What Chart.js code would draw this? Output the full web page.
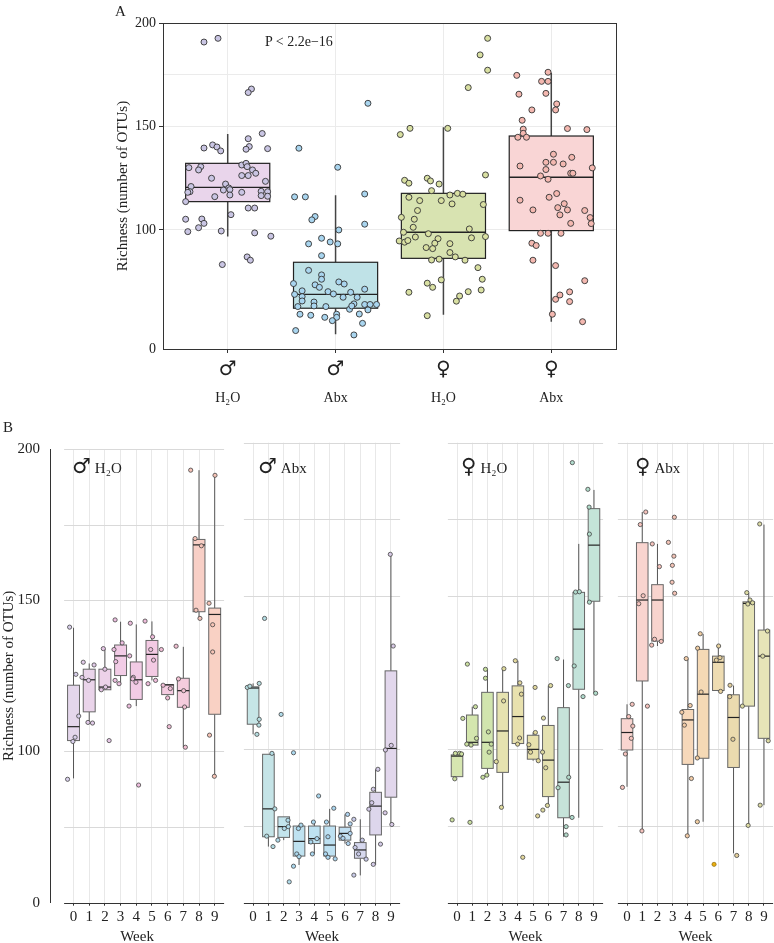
<!DOCTYPE html>
<html>
<head>
<meta charset="utf-8">
<script src="https://cdn.jsdelivr.net/npm/chart.js@4.4.0/dist/chart.umd.min.js"></script>
<style>
html, body { margin: 0; padding: 0; background: #fff; overflow: hidden; }
#wrap { position: relative; width: 774px; height: 943px; overflow: hidden;
        font-family: "Liberation Serif", "DejaVu Serif", serif; color: #222; }
canvas { position: absolute; }
.lbl { position: absolute; white-space: nowrap; line-height: 1; }
.sym { font-family: "DejaVu Sans", sans-serif; }
</style>
</head>
<body>
<div id="wrap">
  <canvas id="cA" style="left:0px;top:0px" width="774" height="420"></canvas>
  <canvas id="cB1" style="left:0px;top:430px" width="227" height="520"></canvas>
  <canvas id="cB2" style="left:241px;top:430px" width="162" height="520"></canvas>
  <canvas id="cB3" style="left:445px;top:430px" width="161" height="520"></canvas>
  <canvas id="cB4" style="left:615px;top:430px" width="161" height="520"></canvas>

  <div class="lbl" style="left:115px;top:4px;font-size:15px">A</div>
  <div class="lbl" style="left:3px;top:420px;font-size:15px">B</div>
  <div class="lbl" style="left:265px;top:35px;font-size:14px">P &lt; 2.2e−16</div>

  <div class="lbl" style="left:72px;top:456px"><span class="sym" style="font-size:21px">♂</span> <span style="font-size:15px">H₂O</span></div>
  <div class="lbl" style="left:258px;top:456px"><span class="sym" style="font-size:21px">♂</span> <span style="font-size:15px">Abx</span></div>
  <div class="lbl" style="left:461px;top:456px"><span class="sym" style="font-size:21px">♀</span> <span style="font-size:15px">H₂O</span></div>
  <div class="lbl" style="left:635px;top:456px"><span class="sym" style="font-size:21px">♀</span> <span style="font-size:15px">Abx</span></div>
</div>

<script>
// ---------- panel A : all weeks pooled ----------
const aSex = ['♂', '♂', '♀', '♀'];
const aTreat = ['H₂O', 'Abx', 'H₂O', 'Abx'];
const aYTicks = [42.5, 100, 150, 200];
const aYTickLabels = ['0', '100', '150', '200'];
const aYGrid = [100, 150, 175];

const aLo  = [96.8, 49.6, 59.0, 55.7];
const aQ1  = [113.7, 62.2, 86.3, 99.7];
const aMed = [120.6, 68.9, 98.9, 125.5];
const aQ3  = [132.2, 84.4, 117.7, 145.4];
const aHi  = [146.4, 116.8, 149.6, 176.0];

// [jitter, richness]
const aPtsMH2O = [[-0.22,190.8],[-0.09,192.6],[0.22,168.1],[0.19,166.4],[0.32,146.6],[0.19,144.1],[-0.22,139.6],
  [-0.14,141.1],[-0.10,140.1],[-0.065,138.2],[0.20,140.3],[0.17,139.0],[0.37,139.3],[-0.36,130.1],[-0.25,130.6],
  [-0.27,129.0],[-0.15,125.0],[0.13,131.4],[0.17,132.2],[0.18,130.6],[0.23,129.0],[0.26,127.4],[0.19,126.3],
  [0.13,126.3],[0.35,123.5],[-0.34,121.0],[-0.35,118.5],[-0.37,118.2],[-0.02,122.2],[0.01,120.3],[0.02,119.5],
  [-0.04,119.3],[0.02,116.9],[0.13,118.2],[0.31,118.7],[0.31,116.6],[0.37,118.5],[0.37,116.3],[-0.12,116.1],
  [-0.39,113.7],[0.03,107.4],[0.19,110.6],[0.25,110.6],[-0.39,105.2],[-0.24,105.3],[-0.22,103.2],[-0.27,101.1],
  [-0.37,99.2],[-0.06,99.5],[0.25,98.6],[0.40,97.0],[0.18,87.0],[0.21,85.4],[-0.05,83.3]];
const aPtsMAbx = [[0.30,161.2],[-0.34,139.5],[0.02,130.3],[-0.38,116.0],[-0.28,116.0],[0.27,117.4],[-0.19,106.5],
  [-0.22,104.9],[0.27,102.8],[0.03,100.0],[-0.13,96.0],[-0.05,94.2],[0.02,93.3],[-0.25,93.3],[-0.13,87.6],
  [-0.25,80.5],[-0.13,78.3],[-0.13,76.2],[-0.39,74.1],[0.03,74.9],[0.08,73.9],[-0.19,73.5],[-0.15,72.3],
  [-0.07,70.2],[-0.02,69.1],[0.14,69.9],[0.27,71.4],[-0.38,68.9],[-0.31,70.6],[-0.31,67.8],[0.07,67.5],
  [0.20,67.5],[-0.31,65.7],[-0.20,65.2],[0.17,64.3],[-0.35,63.0],[-0.20,63.3],[-0.09,63.0],[0.13,61.7],
  [0.15,63.3],[0.27,64.0],[0.32,64.0],[0.38,64.0],[0.30,61.4],[-0.33,59.3],[-0.23,58.8],[0.01,59.3],
  [-0.10,57.8],[0.01,57.8],[-0.03,56.2],[0.22,59.4],[0.25,54.9],[-0.37,51.4],[0.17,49.3]];
const aPtsFH2O = [[0.41,192.6],[0.34,184.6],[0.41,177.2],[0.23,168.8],[-0.31,149.1],[-0.40,146.1],[0.04,149.1],
  [0.39,126.6],[-0.36,124.0],[-0.32,122.6],[-0.15,125.0],[-0.12,123.7],[-0.04,122.2],[-0.11,119.0],[-0.32,115.8],
  [-0.22,114.2],[-0.02,114.2],[0.06,116.9],[0.13,117.7],[0.18,117.3],[0.08,112.6],[0.37,112.3],[-0.24,109.4],
  [-0.39,106.1],[-0.27,105.2],[-0.28,101.3],[-0.37,98.9],[-0.14,98.2],[0.24,100.5],[-0.41,94.7],[-0.36,94.1],
  [-0.33,94.9],[-0.26,96.6],[-0.05,95.8],[-0.08,93.6],[0.26,96.2],[0.39,96.8],[-0.16,91.5],[-0.10,91.0],
  [0.06,93.4],[0.06,89.1],[0.11,87.0],[-0.11,85.5],[-0.04,85.9],[0.20,85.4],[0.32,81.8],[-0.02,75.9],
  [0.36,76.2],[-0.15,74.3],[-0.10,72.3],[-0.32,69.9],[0.23,70.2],[0.35,71.0],[0.15,68.1],[0.12,65.6],[-0.15,58.6]];
const aPtsFAbx = [[-0.03,176.2],[-0.32,174.7],[-0.09,171.8],[-0.03,171.8],[-0.30,165.6],[-0.05,166.0],[0.05,160.9],
  [0.04,158.0],[-0.18,158.0],[-0.27,153.0],[-0.26,148.7],[-0.26,146.7],[-0.31,144.8],[-0.23,144.8],[0.15,149.0],
  [0.33,148.5],[0.02,136.6],[0.19,135.1],[-0.05,132.7],[0.02,132.7],[0.11,131.9],[-0.29,130.9],[0.38,130.0],
  [-0.05,129.2],[0.18,127.4],[0.20,127.4],[-0.10,126.1],[-0.03,124.5],[0.05,117.6],[-0.02,115.8],[-0.29,114.4],
  [0.12,112.7],[0.06,110.8],[0.15,109.7],[-0.17,109.7],[0.31,109.4],[0.08,107.3],[0.36,106.0],[0.37,103.1],
  [0.18,103.2],[-0.10,98.4],[-0.03,98.4],[0.09,98.4],[-0.18,93.6],[-0.14,92.5],[-0.17,85.4],[0.04,82.8],
  [0.31,75.5],[0.17,70.1],[0.08,68.6],[0.04,66.5],[0.17,65.4],[0.01,59.3],[0.29,55.7]];

const aBoxFill = ['#E9D5EB', '#BFE2E7', '#D8E3B1', '#F9D5D5'];
const aPointFill = ['#C9C5E3', '#A9D5EF', '#D9E0A2', '#F4B8B0'];

// ---------- panel B : by week ----------
const weeks = [0, 1, 2, 3, 4, 5, 6, 7, 8, 9];
const bYTicks = [50, 100, 150, 200];
const bYTickLabels = ['0', '100', '150', '200'];
const bYGrid = [75, 100, 150, 175, 200];

// male, water
const mH2oLo  = [91.1, 109.6, 120.4, 122.1, 115.0, 123.5, 118.8, 101.4, 144.0, 91.8];
const mH2oQ1  = [103.6, 113.1, 120.4, 125.1, 117.2, 124.8, 118.8, 114.6, 146.2, 112.3];
const mH2oMed = [108.2, 123.7, 121.3, 131.6, 123.7, 132.1, 122.0, 120.1, 168.3, 145.3];
const mH2oQ3  = [121.9, 127.2, 127.2, 135.2, 129.6, 136.7, 122.1, 124.2, 170.1, 147.4];
const mH2oHi  = [140.9, 129.1, 134.0, 142.9, 142.0, 143.0, 122.1, 134.6, 193.0, 191.3];
// [week, jitter, richness]
const mH2oPts = [[0,-0.25,141.1],[0,0.15,125.5],[0,0.33,111.7],[0,0.10,104.7],[0,-0.04,103.3],[0,-0.38,90.8],
  [1,-0.38,129.5],[1,0.31,128.6],[1,-0.46,124.5],[1,-0.04,123.5],[1,-0.08,109.6],[1,0.21,109.4],
  [2,-0.10,134.0],[2,0,127.2],[2,-0.23,120.4],[2,0.04,121.3],[2,0.27,103.6],
  [3,-0.35,143.5],[3,-0.42,133.7],[3,0.10,135.9],[3,-0.31,129.7],[3,-0.35,123.5],[3,-0.10,122.4],
  [4,-0.38,142.4],[4,-0.42,131.6],[4,-0.19,124.5],[4,-0.23,124.0],[4,-0.02,122.9],[4,-0.46,115.0],[4,0.15,88.9],
  [5,-0.44,143.1],[5,0.04,137.9],[5,-0.08,133.7],[5,0.10,130.2],[5,0.23,123.5],[5,-0.25,122.4],
  [6,-0.40,133.7],[6,-0.29,121.9],[6,0.17,120.8],[6,0,117.7],[6,0.10,108.2],
  [7,-0.46,134.8],[7,-0.31,124.0],[7,0.02,120.1],[7,0.08,114.7],[7,0.13,101.4],
  [8,-0.53,193.0],[8,-0.25,170.4],[8,0.15,168.0],[8,-0.19,146.7],[8,0.06,144.0],
  [9,0.02,191.3],[9,-0.36,149.0],[9,-0.13,141.9],[9,-0.13,132.9],[9,-0.33,105.4],[9,-0.02,91.8]];

// male, antibiotics
const mAbxLo  = [104.9, 68.3, 70.4, 62.3, 65.9, 64.3, 69.3, 58.9, 62.3, 75.5];
const mAbxQ1  = [108.2, 71.5, 71.3, 65.2, 69.3, 65.2, 70.4, 64.5, 72.1, 84.4];
const mAbxMed = [120.0, 80.6, 74.8, 70.0, 70.9, 68.8, 72.6, 67.2, 81.5, 100.3];
const mAbxQ3  = [120.4, 98.4, 78.0, 75.0, 75.0, 75.0, 74.6, 69.6, 86.0, 125.6];
const mAbxHi  = [121.5, 98.4, 78.0, 75.3, 76.3, 80.6, 78.8, 77.2, 93.5, 163.6];
const mAbxPts = [[0,-0.38,120.2],[0,-0.21,120.6],[0,0.40,121.5],[0,0.40,109.8],[0,0.38,107.9],[0,0.25,104.9],
  [1,-0.25,142.7],[1,0.23,98.7],[1,0.42,80.6],[1,-0.11,71.7],[1,0.30,68.3],
  [2,-0.17,111.4],[2,0.28,76.9],[2,0.04,74.2],[2,0.30,74.8],[2,-0.38,70.4],[2,0.36,56.8],
  [3,-0.36,98.9],[3,0.13,75.3],[3,-0.04,74.2],[3,-0.15,65.9],[3,-0.36,61.9],[3,0,65.0],
  [4,0.28,84.8],[4,-0.06,76.3],[4,0.17,70.9],[4,-0.23,69.8],[4,-0.13,65.9],
  [5,0.27,80.8],[5,-0.21,76.3],[5,-0.11,71.5],[5,-0.27,65.9],[5,-0.11,64.8],[5,0.36,64.3],
  [6,0.17,78.8],[6,0.34,75.7],[6,-0.30,71.7],[6,-0.13,71.0],[6,0.21,69.3],[6,0.34,72.6],
  [7,-0.42,77.2],[7,0.13,70.4],[7,-0.34,68.0],[7,-0.11,65.9],[7,0.38,64.2],[7,-0.42,59.0],
  [8,0.15,93.5],[8,-0.15,87.0],[8,-0.25,82.6],[8,-0.44,80.5],[8,0.32,69.1],[8,-0.15,62.5],
  [9,-0.04,163.6],[9,0.15,133.7],[9,0.02,101.3],[9,-0.36,99.8],[9,-0.38,79.3],[9,0.06,75.5]];

// female, water
const fH2oLo  = [91.1, 101.4, 91.5, 81.1, 101.9, 96.3, 81.7, 71.5, 77.7, 118.3];
const fH2oQ1  = [91.1, 101.4, 93.8, 92.5, 101.9, 96.8, 84.6, 77.7, 119.6, 148.3];
const fH2oMed = [97.8, 102.3, 102.3, 106.0, 110.7, 100.0, 96.5, 89.3, 139.2, 166.6];
const fH2oQ3  = [98.2, 111.2, 118.6, 118.6, 120.7, 104.6, 107.8, 113.6, 151.2, 178.5];
const fH2oHi  = [98.7, 113.9, 126.1, 126.3, 128.9, 105.5, 120.8, 129.3, 167.0, 184.6];
const fH2oPts = [[0,-0.11,98.7],[0,0.17,98.7],[0,0.30,98.5],[0,-0.15,90.4],[0,-0.32,77.0],[0,0.38,110.1],
  [1,-0.32,127.8],[1,0.21,113.9],[1,0.28,103.6],[1,-0.36,101.7],[1,-0.08,101.4],[1,-0.15,76.2],
  [2,-0.13,126.1],[2,-0.13,123.2],[2,0.06,105.7],[2,0.25,101.7],[2,0.11,99.1],[2,-0.04,91.6],[2,-0.30,90.9],
  [3,0.08,126.3],[3,0.06,115.8],[3,-0.42,96.0],[3,-0.08,81.1],
  [4,-0.17,128.9],[4,0.13,121.7],[4,0.23,118.0],[4,0.11,103.7],[4,-0.02,101.7],[4,0.32,64.8],
  [5,0.13,120.2],[5,0.15,105.5],[5,-0.28,101.5],[5,-0.17,99.1],[5,0.34,96.3],[5,0.30,78.3],
  [6,0.15,120.8],[6,-0.32,110.2],[6,-0.38,99.1],[6,-0.17,94.0],[6,-0.06,81.7],[6,-0.36,80.2],
  [7,-0.42,129.6],[7,0.32,120.8],[7,0.34,90.9],[7,-0.36,87.5],[7,0.17,74.8],[7,0.17,72.1],
  [8,-0.42,193.5],[8,-0.21,151.3],[8,0.04,151.4],[8,-0.30,127.2],[8,0.28,117.2],[8,-0.44,77.8],
  [9,-0.40,184.8],[9,-0.32,179.0],[9,-0.30,170.2],[9,-0.30,148.0],[9,0.11,118.3]];

// female, antibiotics (no box drawn for week 3)
const fAbxLo  = [87.8, 73.4, 133.7, null, 71.8, 76.4, 118.9, 66.1, 75.3, 81.8];
const fAbxQ1  = [99.8, 122.3, 135.3, null, 95.1, 97.1, 119.2, 94.1, 114.1, 103.6];
const fAbxMed = [105.5, 148.7, 148.7, null, 109.6, 118.0, 128.4, 110.4, 147.6, 130.4];
const fAbxQ3  = [110.0, 167.4, 153.7, null, 113.0, 132.6, 130.4, 117.8, 148.1, 138.9];
const fAbxHi  = [114.7, 177.4, 167.0, null, 129.6, 137.6, 133.7, 120.8, 150.9, 173.3];
const fAbxPts = [[0,0.34,114.7],[0,0.11,110.7],[0,0.38,107.6],[0,0.28,103.6],[0,-0.11,98.5],[0,-0.30,87.6],
  [1,0.23,177.4],[1,-0.13,173.3],[1,0.06,150.1],[1,-0.23,147.5],[1,0.34,114.1],[1,-0.02,73.4],
  [2,-0.34,167.0],[2,0.13,159.6],[2,-0.19,135.9],[2,0.25,135.2],[2,-0.38,134.0],
  [3,0.11,175.7],[3,-0.28,167.5],[3,0.08,163.0],[3,-0.02,160.0],[3,-0.04,154.5],[3,0.13,150.9],
  [4,-0.11,129.6],[4,-0.40,112.1],[4,0.15,114.3],[4,-0.23,107.9],[4,0.23,90.5],[4,-0.04,71.8],
  [5,-0.19,137.7],[5,-0.36,133.0],[5,-0.13,118.7],[5,-0.38,97.2],[5,-0.38,76.4],
  [6,0.02,133.7],[6,-0.13,129.1],[6,0.11,129.9],[6,0.15,118.9],
  [7,-0.23,120.9],[7,-0.25,117.2],[7,-0.04,103.3],[7,0.21,65.4],
  [8,-0.13,151.1],[8,0.08,148.7],[8,-0.06,147.4],[8,0.25,147.8],[8,-0.42,114.1],[8,-0.04,75.2],
  [9,-0.28,173.5],[9,0.23,138.6],[9,-0.08,130.4],[9,0.28,102.8],[9,-0.25,81.8]];
const fAbxOdd = [[6,-0.28,62.5]];

// colours per week
const mH2oFill = ['#E4D6EB','#EAD4EA','#EDD2E9','#F2CCE6','#F2CBE5','#F3CAE3','#F3CBE0','#F5CCDD','#F8CFC6','#F9D1C4'];
const mH2oDot  = ['#D8CFEA','#E1CBE8','#E6C6E6','#EDBFE0','#EEBEDE','#EFBDDB','#F0BED6','#F2C0D2','#F6C3B8','#F7C4B6'];
const mAbxFill = ['#C6E5E6','#C5E4E7','#C3E4EC','#BFE2F0','#BEE2F1','#BEE1F2','#C1DFF2','#D6D8EE','#DDD6EC','#E2D7EC'];
const mAbxDot  = ['#B5DDE0','#B3DCE3','#B0DBEA','#ABD8EE','#AAD7EF','#AAD6F0','#B0D3EF','#C9CBE9','#D2C9E6','#D8CAE6'];
const fH2oFill = ['#D6E6B0','#D4E6AE','#D1E5AE','#E6E3B0','#E8E1AE','#E8E1AE','#E4E1B0','#C6E3D9','#C3E3DA','#C4E4D8'];
const fH2oDot  = ['#CDE0A0','#CBE0A0','#C6DE9E','#E0DB9E','#E3D89C','#E2D89C','#DCD89F','#B3DBCB','#B0DBCD','#B1DCCA'];
const fAbxFill = ['#F9D5D0','#F9D4CF','#F8D4CE','#F7D5C8','#F6D8BA','#F5D9B5','#EEDCB2','#EBDBAF','#E6E4B6','#E6E4B8'];
const fAbxDot  = ['#F5C3BD','#F5C2BC','#F4C2BB','#F3C3B6','#F2CBA6','#F0CDA2','#E7D19E','#E3CE9A','#DCDBA2','#DCDBA4'];

Chart.defaults.font.family = "'Liberation Serif', 'DejaVu Sans', serif";
Chart.defaults.color = '#222';

// box + whisker drawn from the chart's own scales
const boxPlugin = {
  id: 'boxes',
  beforeDatasetsDraw(chart, args, o) {
    const { ctx, scales: { x, y } } = chart;
    ctx.save();
    o.items.forEach(b => {
      if (b.med == null) return;
      const cx = x.getPixelForValue(b.x);
      const l = x.getPixelForValue(b.x - o.half);
      const r = x.getPixelForValue(b.x + o.half);
      const yLo = y.getPixelForValue(b.lo), yQ1 = y.getPixelForValue(b.q1);
      const yMed = y.getPixelForValue(b.med), yQ3 = y.getPixelForValue(b.q3);
      const yHi = y.getPixelForValue(b.hi);
      ctx.strokeStyle = o.whisker;
      ctx.lineWidth = o.whiskerWidth;
      ctx.beginPath();
      ctx.moveTo(cx, yHi); ctx.lineTo(cx, yQ3);
      ctx.moveTo(cx, yQ1); ctx.lineTo(cx, yLo);
      ctx.stroke();
      ctx.fillStyle = b.fill;
      ctx.fillRect(l, yQ3, r - l, yQ1 - yQ3);
      ctx.strokeStyle = o.edge;
      ctx.lineWidth = o.edgeWidth;
      ctx.strokeRect(l, yQ3, r - l, yQ1 - yQ3);
      ctx.strokeStyle = o.medColor;
      ctx.lineWidth = o.medWidth;
      ctx.beginPath();
      ctx.moveTo(l, yMed); ctx.lineTo(r, yMed);
      ctx.stroke();
    });
    ctx.restore();
  }
};

const framePlugin = {
  id: 'frame',
  afterDatasetsDraw(chart) {
    const { ctx, chartArea: a } = chart;
    ctx.save();
    ctx.strokeStyle = '#333';
    ctx.lineWidth = 1;
    ctx.strokeRect(Math.round(a.left) + 0.5, Math.round(a.top) + 0.5,
                   Math.round(a.right - a.left), Math.round(a.bottom - a.top));
    ctx.restore();
  }
};

// horizontal grid and the x baseline, both limited to the facet panel
const hGridPlugin = {
  id: 'hgrid',
  beforeDatasetsDraw(chart, args, o) {
    const { ctx, chartArea, scales: { x, y } } = chart;
    const l = x.getPixelForValue(o.from), r = x.getPixelForValue(o.to);
    ctx.save();
    ctx.lineWidth = 1;
    ctx.strokeStyle = o.color;
    o.values.forEach(v => {
      const py = Math.round(y.getPixelForValue(v)) + 0.5;
      ctx.beginPath(); ctx.moveTo(l, py); ctx.lineTo(r, py); ctx.stroke();
    });
    ctx.strokeStyle = o.axisColor;
    const by = Math.round(chartArea.bottom) + 0.5;
    ctx.beginPath(); ctx.moveTo(l, by); ctx.lineTo(r, by); ctx.stroke();
    ctx.restore();
  }
};

function boxItems(lo, q1, med, q3, hi, fills) {
  return med.map((m, i) => ({ x: i, lo: lo[i], q1: q1[i], med: m, q3: q3[i], hi: hi[i], fill: fills[i] }));
}

// ---------- chart A ----------
const aGroups = [aPtsMH2O, aPtsMAbx, aPtsFH2O, aPtsFAbx];
new Chart(document.getElementById('cA'), {
  type: 'scatter',
  data: {
    datasets: aGroups.map((pts, g) => ({
      data: pts.map(p => ({ x: g + p[0], y: p[1] })),
      pointRadius: 3,
      pointHoverRadius: 3,
      pointBackgroundColor: aPointFill[g],
      pointBorderColor: '#333',
      pointBorderWidth: 0.9
    }))
  },
  options: {
    responsive: false,
    animation: false,
    events: [],
    layout: { padding: { left: 114, right: 158, top: 23, bottom: 0 } },
    plugins: {
      legend: { display: false },
      tooltip: { enabled: false },
      boxes: {
        items: boxItems(aLo, aQ1, aMed, aQ3, aHi, aBoxFill), half: 0.39,
        edge: '#222', edgeWidth: 1.2, medColor: '#222', medWidth: 1.4,
        whisker: '#444', whiskerWidth: 1.5
      }
    },
    scales: {
      x: {
        type: 'linear', position: 'bottom', weight: 0, min: -0.6, max: 3.6,
        afterBuildTicks: s => { s.ticks = aSex.map((_, i) => ({ value: i })); },
        afterFit: s => { s.height = 36; },
        grid: { color: '#EBEBEB', tickColor: '#333', tickLength: 4 },
        border: { display: true, color: '#333' },
        ticks: { padding: 5, autoSkip: false, maxRotation: 0, color: '#222',
                 font: { family: 'DejaVu Sans', size: 20 }, callback: v => aSex[v] }
      },
      x2: {
        type: 'linear', position: 'bottom', weight: 1, min: -0.6, max: 3.6,
        afterBuildTicks: s => { s.ticks = aTreat.map((_, i) => ({ value: i })); },
        afterFit: s => { s.height = 35; },
        grid: { display: false, drawTicks: false },
        border: { display: false },
        ticks: { padding: 5, autoSkip: false, maxRotation: 0, color: '#222',
                 font: { size: 14 }, callback: v => aTreat[v] }
      },
      y: {
        type: 'linear', min: 42.5, max: 200,
        afterBuildTicks: s => { s.ticks = aYTicks.concat([175]).sort((p, q) => p - q).map(v => ({ value: v })); },
        afterFit: s => { s.width = 49; },
        grid: {
          color: c => aYGrid.includes(c.tick.value) ? '#EBEBEB' : 'rgba(0,0,0,0)',
          tickColor: c => aYTicks.includes(c.tick.value) && c.tick.value !== 42.5 ? '#333' : 'rgba(0,0,0,0)',
          tickLength: 4
        },
        border: { display: true, color: '#333' },
        ticks: { padding: 3, color: '#222', font: { size: 14 },
                 callback: v => { const i = aYTicks.indexOf(v); return i < 0 ? '' : aYTickLabels[i]; } },
        title: { display: true, text: 'Richness (number of OTUs)', font: { size: 15 }, padding: 0, color: '#222' }
      }
    }
  },
  plugins: [boxPlugin, framePlugin]
});

// ---------- charts B ----------
function facet(id, lo, q1, med, q3, hi, pts, fills, dots, withAxis, extra) {
  const datasets = [{
    data: pts.map(p => ({ x: p[0] + p[1], y: p[2] })),
    pointRadius: 2.1, pointHoverRadius: 2.1,
    pointBackgroundColor: pts.map(p => dots[p[0]]),
    pointBorderColor: '#444', pointBorderWidth: 0.8
  }];
  if (extra) {
    datasets.push({
      data: extra.map(p => ({ x: p[0] + p[1], y: p[2] })),
      pointRadius: 2.1, pointHoverRadius: 2.1,
      pointBackgroundColor: '#E9AE10', pointBorderColor: '#7a5a00', pointBorderWidth: 0.6
    });
  }
  new Chart(document.getElementById(id), {
    type: 'scatter',
    data: { datasets },
    options: {
      responsive: false,
      animation: false,
      events: [],
      layout: { padding: { left: 0, right: 0, top: 12.7, bottom: 0 } },
      plugins: {
        legend: { display: false },
        tooltip: { enabled: false },
        hgrid: { values: bYGrid, from: -0.6, to: 9.6, color: '#D9D9D9', axisColor: '#333' },
        boxes: {
          items: boxItems(lo, q1, med, q3, hi, fills), half: 0.38,
          edge: '#666', edgeWidth: 1, medColor: '#222', medWidth: 1.2,
          whisker: '#555', whiskerWidth: 1
        }
      },
      scales: {
        x: {
          type: 'linear', min: withAxis ? -1.5 : -0.6, max: 9.6,
          afterBuildTicks: s => { s.ticks = weeks.map(w => ({ value: w })); },
          afterFit: s => { s.height = 47.3; },
          grid: { color: '#E8E8E8', tickColor: '#333', tickLength: 3 },
          border: { display: false },
          ticks: { padding: 2.3, autoSkip: false, maxRotation: 0, color: '#222', font: { size: 15 } },
          title: { display: true, text: 'Week', font: { size: 15 }, padding: { top: 0, bottom: 4 }, color: '#222' }
        },
        y: {
          type: 'linear', min: 50, max: 200, display: withAxis,
          afterBuildTicks: s => { s.ticks = bYTicks.map(v => ({ value: v })); },
          afterFit: s => { s.width = withAxis ? 50 : 0; },
          grid: { display: false, drawTicks: false },
          border: { display: true, color: '#333' },
          ticks: { padding: 10, color: '#222', font: { size: 15 },
                   callback: v => { const i = bYTicks.indexOf(v); return i < 0 ? '' : bYTickLabels[i]; } },
          title: { display: true, text: 'Richness (number of OTUs)', font: { size: 15 }, padding: 0, color: '#222' }
        }
      }
    },
    plugins: [hGridPlugin, boxPlugin]
  });
}

facet('cB1', mH2oLo, mH2oQ1, mH2oMed, mH2oQ3, mH2oHi, mH2oPts, mH2oFill, mH2oDot, true, null);
facet('cB2', mAbxLo, mAbxQ1, mAbxMed, mAbxQ3, mAbxHi, mAbxPts, mAbxFill, mAbxDot, false, null);
facet('cB3', fH2oLo, fH2oQ1, fH2oMed, fH2oQ3, fH2oHi, fH2oPts, fH2oFill, fH2oDot, false, null);
facet('cB4', fAbxLo, fAbxQ1, fAbxMed, fAbxQ3, fAbxHi, fAbxPts, fAbxFill, fAbxDot, false, fAbxOdd);
</script>
</body>
</html>
